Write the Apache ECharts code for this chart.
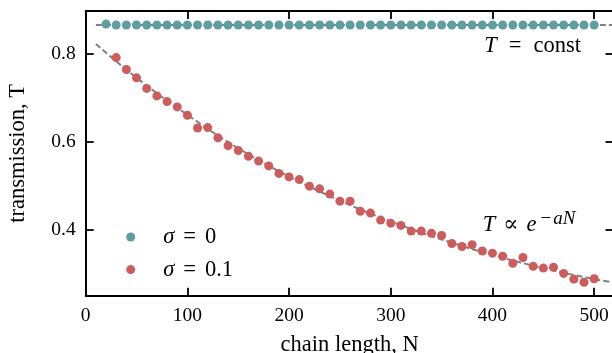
<!DOCTYPE html>
<html>
<head>
<meta charset="utf-8">
<script src="https://cdn.jsdelivr.net/npm/echarts@6.0.0/dist/echarts.min.js"></script>
<style>
html,body{margin:0;padding:0;overflow:hidden;background:#fff;width:612px;height:353px;}
#c{width:620px;height:353px;}
</style>
</head>
<body>
<div id="c"></div>
<script>
// ---- data ----
const greenN = [20,30,40,50,60,70,80,90,100,110,120,130,140,150,160,170,180,190,200,210,220,230,240,250,260,270,280,290,300,310,320,330,340,350,360,370,380,390,400,410,420,430,440,450,460,470,480,490,500];
const greenT = [0.868,0.866,0.866,0.866,0.866,0.866,0.866,0.866,0.866,0.866,0.866,0.866,0.866,0.866,0.866,0.866,0.866,0.866,0.866,0.866,0.866,0.866,0.866,0.866,0.866,0.866,0.866,0.866,0.866,0.866,0.866,0.866,0.866,0.866,0.866,0.866,0.866,0.866,0.866,0.866,0.866,0.866,0.866,0.866,0.866,0.866,0.866,0.866,0.866];
const redN = [30,40,50,60,70,80,90,100,110,120,130,140,150,160,170,180,190,200,210,220,230,240,250,260,270,280,290,300,310,320,330,340,350,360,370,380,390,400,410,420,430,440,450,460,470,480,490,500];
const redT = [0.792,0.765,0.746,0.722,0.705,0.692,0.680,0.661,0.632,0.633,0.610,0.592,0.581,0.568,0.557,0.546,0.529,0.521,0.515,0.500,0.494,0.482,0.466,0.466,0.443,0.439,0.423,0.416,0.411,0.398,0.398,0.393,0.388,0.370,0.363,0.367,0.353,0.348,0.341,0.325,0.338,0.318,0.314,0.316,0.302,0.289,0.282,0.290];
const constN = [10, 518];
const constT = [0.866, 0.866];
const fitN = [10,50,100,150,200,250,300,350,400,450,500,518];
const fitT = [0.823,0.746,0.662,0.586,0.522,0.467,0.420,0.379,0.344,0.314,0.289,0.282];
const xTicks = [0,100,200,300,400,500];
const yTicks = [0.4,0.6,0.8];
const seriesNames = ['σ = 0', 'σ = 0.1'];
// ---------------------------------------

const FONT = '"Liberation Serif", "DejaVu Serif", serif';
const TICK_FS = 19.5;
const TEXT_FS = 22.5;
const zip = (a, b) => a.map((v, i) => [v, b[i]]);
const chart = echarts.init(document.getElementById('c'), null, {renderer: 'canvas'});

const axisLineStyle = {color: '#000', width: 2};
const tickStyle = {color: '#000', width: 1.8};

function xAxisCfg(pos, showLabel) {
  return {
    type: 'value', min: 0, max: 519, position: pos,
    axisLine: {show: true, onZero: false, lineStyle: axisLineStyle},
    axisTick: {show: true, inside: true, length: 8, lineStyle: tickStyle, customValues: xTicks},
    axisLabel: {show: showLabel, customValues: xTicks, color: '#000', fontFamily: FONT, fontSize: TICK_FS, margin: 10},
    splitLine: {show: false},
    name: showLabel ? 'chain length, N' : '',
    nameLocation: 'middle', nameGap: 38,
    nameTextStyle: {color: '#000', fontFamily: FONT, fontSize: TEXT_FS}
  };
}
function yAxisCfg(pos, showLabel) {
  return {
    type: 'value', min: 0.2514, max: 0.8977, position: pos,
    axisLine: {show: true, onZero: false, lineStyle: axisLineStyle},
    axisTick: {show: true, inside: true, length: 8, lineStyle: tickStyle, customValues: yTicks},
    axisLabel: {show: showLabel, customValues: yTicks, color: '#000', fontFamily: FONT, fontSize: TICK_FS, margin: 10,
      formatter: v => v.toFixed(1)},
    splitLine: {show: false},
    name: showLabel ? 'transmission, T' : '',
    nameLocation: 'middle', nameGap: 56, nameRotate: 90,
    nameTextStyle: {color: '#000', fontFamily: FONT, fontSize: TEXT_FS}
  };
}

const italic = {fontStyle: 'italic', fontFamily: FONT, fontSize: TEXT_FS, color: '#000'};

const option = {
  animation: false,
  backgroundColor: '#fff',
  grid: {left: 85.7, top: 11, right: 6.5, bottom: 57.3, containLabel: false, outerBoundsMode: 'none'},
  xAxis: [xAxisCfg('bottom', true), xAxisCfg('top', false)],
  yAxis: [yAxisCfg('left', true), yAxisCfg('right', false)],
  legend: {
    data: seriesNames,
    orient: 'vertical', left: 121.2, top: 220.5,
    itemWidth: 9, itemHeight: 9, itemGap: 9.6,
    icon: 'circle',
    textStyle: {
      color: '#000', fontFamily: FONT, fontSize: TEXT_FS, lineHeight: 20, padding: [0, 0, 0, 23],
      rich: {
        i: italic,
        eq: {fontFamily: FONT, fontSize: TEXT_FS, color: '#000', padding: [0, 9, 0, 9]}
      }
    },
    formatter: name => name.replace('σ = ', '{i|σ}{eq|=}')
  },
  series: [
    {
      name: 'const', type: 'line', data: zip(constN, constT), showSymbol: false, symbol: 'none',
      lineStyle: {color: '#808080', width: 2, type: [6, 3]}, z: 1, silent: true
    },
    {
      name: 'fit', type: 'line', data: zip(fitN, fitT), showSymbol: false, symbol: 'none', smooth: 0.4,
      lineStyle: {color: '#808080', width: 2, type: [6, 3]}, z: 1, silent: true
    },
    {
      name: seriesNames[0], type: 'scatter', data: zip(greenN, greenT), symbolSize: 9,
      itemStyle: {color: '#5f9ea0', opacity: 1}, z: 3
    },
    {
      name: seriesNames[1], type: 'scatter', data: zip(redN, redT), symbolSize: 9,
      itemStyle: {color: '#cd5c5c', opacity: 1}, z: 3
    }
  ],
  graphic: [
    {
      type: 'text', right: 620 - 581, top: 35, z: 10,
      style: {
        text: '{i|T}{eq|=}const', fill: '#000', font: TEXT_FS + 'px ' + FONT,
        rich: {i: italic, eq: {fontFamily: FONT, fontSize: TEXT_FS, padding: [0, 12, 0, 12]}}
      }
    },
    {
      type: 'text', left: 482.7, top: 213.5, z: 10,
      style: {
        text: '{i|T}{eq|∝}{i|e}', fill: '#000', font: TEXT_FS + 'px ' + FONT,
        rich: {i: italic, eq: {fontFamily: FONT, fontSize: TEXT_FS, padding: [0, 8, 0, 8]}}
      }
    },
    {
      type: 'text', left: 540.5, top: 209.5, z: 10,
      style: {
        text: '{m|−}{i|aN}', fill: '#000', font: 'italic 19px ' + FONT,
        rich: {m: {fontFamily: FONT, fontSize: 19, padding: [0, 2, 0, 0]}, i: {fontStyle: 'italic', fontFamily: FONT, fontSize: 19}}
      }
    }
  ]
};
chart.setOption(option);
</script>
</body>
</html>
